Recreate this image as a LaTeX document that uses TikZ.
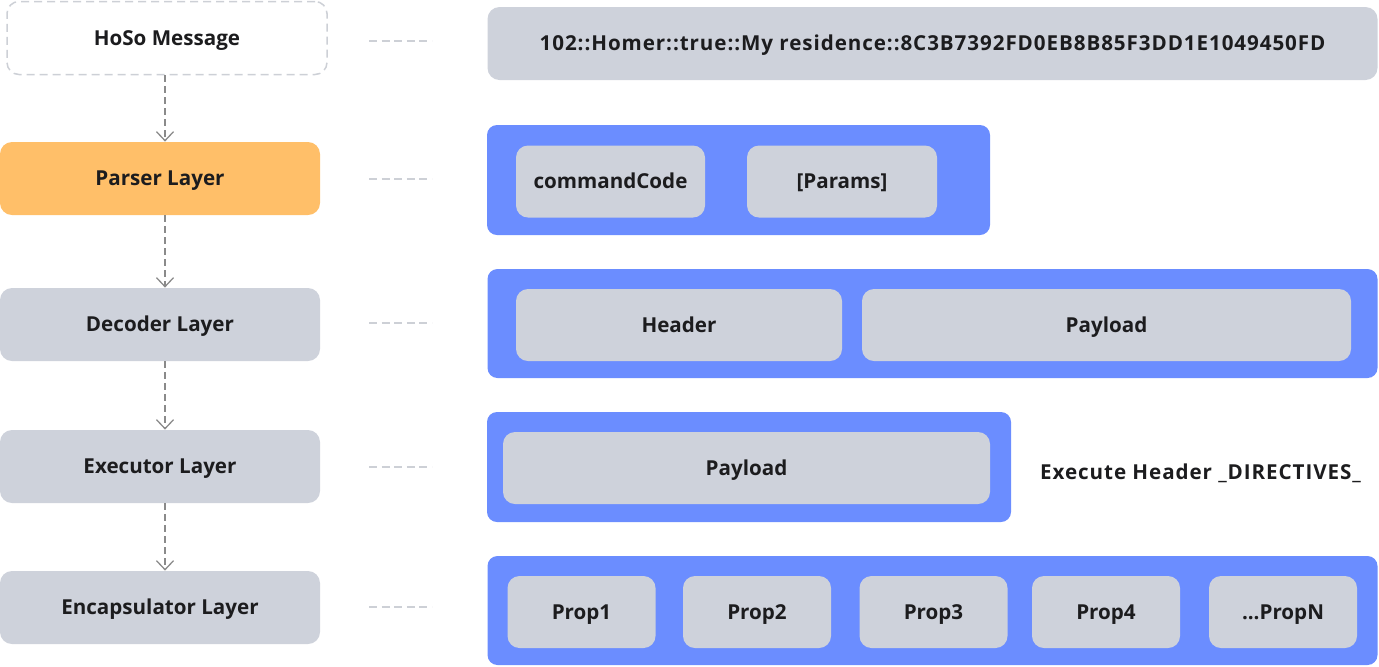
\documentclass[tikz,border=0pt]{standalone}
\usepackage{fontspec}
\setmainfont{Open Sans}
\usetikzlibrary{arrows.meta}
\definecolor{ink}{HTML}{1C1C1E}
\definecolor{boxgray}{HTML}{CED2DB}
\definecolor{parserorange}{HTML}{FFBF69}
\definecolor{rowblue}{HTML}{6B8DFF}
\definecolor{dashgray}{HTML}{CDD0D6}
\definecolor{arrowgray}{HTML}{8A8A8A}
\begin{document}
\begin{tikzpicture}[x=0.5pt, y=-0.5pt, line join=round,
	every node/.style={font=\bfseries\fontsize{10.3}{12}\selectfont, text=ink, inner sep=0pt, text height=7.4pt, text depth=0pt},
	layer/.style={rectangle, rounded corners=6pt, fill=boxgray, minimum width=160pt, minimum height=36.5pt},
	row/.style={rectangle, rounded corners=5pt, fill=rowblue, minimum height=55pt},
	cell/.style={rectangle, rounded corners=6pt, fill=boxgray, minimum height=36pt},
	wide/.style={font=\bfseries\fontsize{10.3}{12}\selectfont\addfontfeature{LetterSpace=4.5}},
	flow/.style={draw=arrowgray, line width=0.65pt, dash pattern=on 3.5pt off 2pt, -{Straight Barb[length=4.5pt, width=8.5pt, line width=0.65pt]}},
	guide/.style={draw=dashgray, line width=0.75pt, dash pattern=on 4pt off 2.3pt}]
	\useasboundingbox (0,0) rectangle (1379,666);
	% Các lớp bên trái
	\node[layer, fill=white, draw=dashgray, line width=0.75pt, dash pattern=on 4pt off 2.5pt] (msg) at (167,38) {HoSo Message};
	\node[layer, fill=parserorange] (parser) at (160,178.5) {Parser Layer};
	\node[layer] (decoder) at (160,324.5) {Decoder Layer};
	\node[layer] (executor) at (160,466.5) {Executor Layer};
	\node[layer] (encap) at (160,607.5) {Encapsulator Layer};
	% Mũi tên giữa các lớp
	\coordinate (ax) at (165,0);
	\draw[flow] (msg.south -| ax) -- (parser.north -| ax);
	\draw[flow] (parser.south -| ax) -- (decoder.north -| ax);
	\draw[flow] (decoder.south -| ax) -- (executor.north -| ax);
	\draw[flow] (executor.south -| ax) -- (encap.north -| ax);
	% Đường gạch nối sang phải
	\foreach \n/\y in {msg/41, parser/179, decoder/323, executor/467, encap/607}
		\draw[guide] (369,\y) -- (432,\y);
	% Chuỗi thông điệp
	\node[cell, wide, minimum width=445pt, minimum height=36.5pt] (raw) at (932.5,43.5) {102::Homer::true::My residence::8C3B7392FD0EB8B85F3DD1E1049450FD};
	% Parser
	\node[row, minimum width=251.5pt] (parsed) at (738.5,180) {};
	\node[cell, minimum width=94.5pt] (cmdcode) at (610.5,181.5) {commandCode};
	\node[cell, minimum width=95pt] (params) at (842,181.5) {[Params]};
	% Decoder
	\node[row, minimum width=445pt, minimum height=54.5pt] (decoded) at (932.5,323.5) {};
	\node[cell, minimum width=163pt] (header) at (679,325) {Header};
	\node[cell, minimum width=244.5pt] (payload) at (1106.5,325) {Payload};
	% Executor
	\node[row, minimum width=262pt] (executed) at (749,467) {};
	\node[cell, minimum width=243.5pt] (execpayload) at (746.5,468) {Payload};
	\node[wide] (directives) at (1200.5,472) {Execute Header \_DIRECTIVES\_};
	% Encapsulator
	\node[row, minimum width=445pt, minimum height=54.5pt] (encapsulated) at (932.5,610.5) {};
	\foreach \p/\x in {1/581.5, 2/757, 3/933.5, 4/1106}
		\node[cell, minimum width=74pt] (prop\p) at (\x,612) {Prop\p};
	\node[cell, minimum width=74pt] (propN) at (1283,612) {...PropN};
\end{tikzpicture}
\end{document}
